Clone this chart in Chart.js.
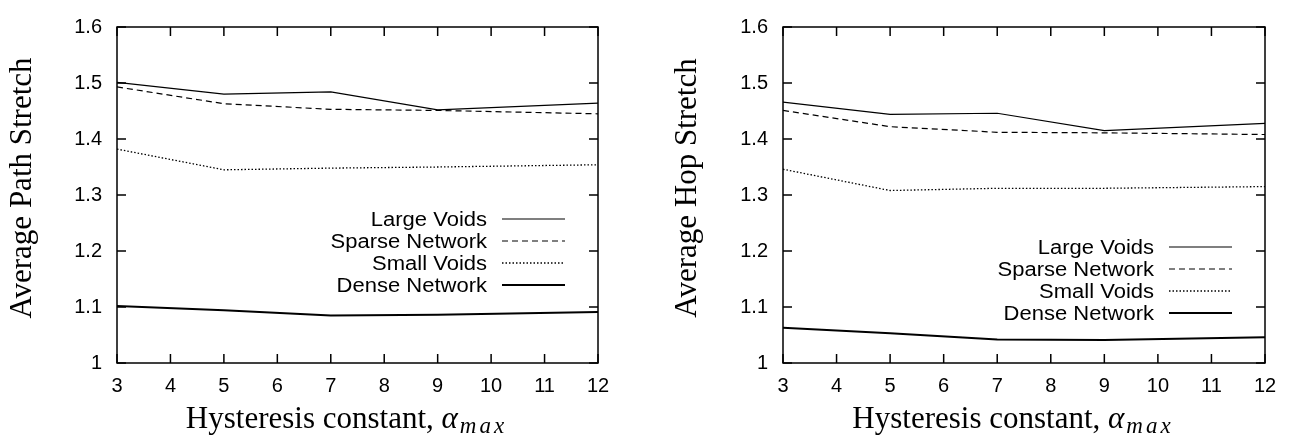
<!DOCTYPE html>
<html>
<head>
<meta charset="utf-8">
<script src="https://cdn.jsdelivr.net/npm/chart.js@4.4.0/dist/chart.umd.min.js"></script>
<style>
body{margin:0;background:#fff;width:1290px;height:437px;overflow:hidden;display:flex}
canvas{display:block}
</style>
</head>
<body>
<canvas id="pathChart" width="645" height="437"></canvas>
<canvas id="hopChart" width="645" height="437"></canvas>
<script>
// x values (hysteresis constant)
const alphaMax = [3, 5, 7, 9, 12];
const seriesNames = ['Large Voids', 'Sparse Network', 'Small Voids', 'Dense Network'];
const yTicks = [1, 1.1, 1.2, 1.3, 1.4, 1.5, 1.6];

// left: average path stretch
const pathLarge  = [1.501, 1.480, 1.484, 1.452, 1.464];
const pathSparse = [1.493, 1.463, 1.453, 1.451, 1.445];
const pathSmall  = [1.382, 1.345, 1.348, 1.350, 1.354];
const pathDense  = [1.102, 1.094, 1.085, 1.086, 1.091];

// right: average hop stretch
const hopLarge  = [1.466, 1.444, 1.446, 1.415, 1.428];
const hopSparse = [1.451, 1.422, 1.412, 1.411, 1.408];
const hopSmall  = [1.346, 1.308, 1.312, 1.312, 1.315];
const hopDense  = [1.063, 1.053, 1.042, 1.041, 1.046];

const styles = [
    {borderWidth: 1.2, borderDash: []},
    {borderWidth: 1.2, borderDash: [6, 4]},
    {borderWidth: 1.3, borderDash: [1.5, 2]},
    {borderWidth: 2, borderDash: []}
];

const SANS = '"Liberation Sans", Arial, sans-serif';
const SERIF = '"Liberation Serif", "Times New Roman", serif';

function makeSets(arrs){
    return arrs.map((vals, i) => ({
        label: seriesNames[i],
        data: vals.map((v, j) => ({x: alphaMax[j], y: v})),
        borderColor: '#000',
        borderWidth: styles[i].borderWidth,
        borderDash: styles[i].borderDash,
        pointRadius: 0,
        fill: false,
        tension: 0
    }));
}

// gnuplot look: frame, inward ticks on all sides, legend with samples on the right, axis titles
const gnuFrame = {
    id: 'gnuFrame',
    afterDraw(chart, args, opts) {
        const {ctx, chartArea: a, scales: {x, y}} = chart;
        ctx.save();
        ctx.strokeStyle = '#000';
        ctx.fillStyle = '#000';
        ctx.lineWidth = 1.5;
        ctx.setLineDash([]);
        ctx.beginPath();
        x.ticks.forEach(t => {
            const px = x.getPixelForValue(t.value);
            ctx.moveTo(px, a.bottom); ctx.lineTo(px, a.bottom - 9);
            ctx.moveTo(px, a.top); ctx.lineTo(px, a.top + 9);
        });
        y.ticks.forEach(t => {
            const py = y.getPixelForValue(t.value);
            ctx.moveTo(a.left, py); ctx.lineTo(a.left + 9, py);
            ctx.moveTo(a.right, py); ctx.lineTo(a.right - 9, py);
        });
        ctx.stroke();
        ctx.strokeRect(a.left, a.top, a.right - a.left, a.bottom - a.top);

        // legend
        ctx.font = '20px ' + SANS;
        ctx.textAlign = 'right';
        ctx.textBaseline = 'middle';
        chart.data.datasets.forEach((ds, i) => {
            const ly = opts.legendTop + i * opts.legendStep;
            ctx.save();
            ctx.translate(a.right - 111, ly + 1);
            ctx.scale(1.1, 1);
            ctx.fillText(ds.label, 0, 0);
            ctx.restore();
            ctx.lineWidth = ds.borderWidth;
            ctx.setLineDash(ds.borderDash);
            ctx.beginPath();
            ctx.moveTo(a.right - 96, ly);
            ctx.lineTo(a.right - 33, ly);
            ctx.stroke();
        });
        ctx.setLineDash([]);

        // y title
        ctx.save();
        ctx.font = '31px ' + SERIF;
        ctx.textAlign = 'center';
        ctx.textBaseline = 'middle';
        ctx.translate(opts.yTitleX, (a.top + a.bottom) / 2 - 7);
        ctx.rotate(-Math.PI / 2);
        ctx.fillText(opts.yTitle, 0, 0);
        ctx.restore();

        // x title with math subscript
        const t1 = 'Hysteresis constant, ';
        const f1 = '31px ' + SERIF;
        const f2 = 'italic 31px ' + SERIF;
        const f3 = 'italic 23px ' + SERIF;
        ctx.textAlign = 'left';
        ctx.textBaseline = 'alphabetic';
        ctx.font = f1; const w1 = ctx.measureText(t1).width;
        ctx.font = f2; const w2 = ctx.measureText('α').width + 2;
        ctx.font = f3; ctx.letterSpacing = '3px'; const w3 = ctx.measureText('max').width;
        ctx.letterSpacing = '0px';
        let sx = (a.left + a.right) / 2 - 11 - (w1 + w2 + w3) / 2;
        const base = 428;
        ctx.font = f1; ctx.fillText(t1, sx, base); sx += w1;
        ctx.font = f2; ctx.fillText('α', sx, base); sx += w2;
        ctx.font = f3; ctx.letterSpacing = '3px'; ctx.fillText('max', sx, base + 5);
        ctx.letterSpacing = '0px';
        ctx.restore();
    }
};

function renderChart(id, title, sets, yWidth, padRight, yTitleX, legendTop){
    new Chart(document.getElementById(id), {
        type: 'line',
        data: {datasets: makeSets(sets)},
        plugins: [gnuFrame],
        options: {
            responsive: false,
            animation: false,
            devicePixelRatio: 1,
            layout: {padding: {left: 0, top: 14, right: padRight, bottom: 0}},
            plugins: {
                legend: {display: false},
                tooltip: {enabled: false},
                gnuFrame: {legendTop: legendTop, legendStep: 22, yTitle: title, yTitleX: yTitleX}
            },
            scales: {
                x: {
                    type: 'linear',
                    min: 3, max: 12,
                    afterFit: s => { s.height = 74; },
                    grid: {display: false, drawTicks: false},
                    border: {display: false},
                    ticks: {
                        stepSize: 1,
                        padding: 11,
                        color: '#000',
                        font: {family: SANS, size: 20}
                    }
                },
                y: {
                    min: 1, max: 1.6,
                    afterFit: s => { s.width = yWidth; },
                    afterBuildTicks: s => { s.ticks = yTicks.map(v => ({value: v})); },
                    grid: {display: false, drawTicks: false},
                    border: {display: false},
                    ticks: {
                        padding: 15,
                        color: '#000',
                        font: {family: SANS, size: 20},
                        callback: v => String(Math.round(v * 10) / 10)
                    }
                }
            }
        }
    });
}

renderChart('pathChart', 'Average Path Stretch', [pathLarge, pathSparse, pathSmall, pathDense], 117, 47, 23, 219);
renderChart('hopChart', 'Average Hop Stretch', [hopLarge, hopSparse, hopSmall, hopDense], 138, 25, 43, 247);
</script>
</body>
</html>
